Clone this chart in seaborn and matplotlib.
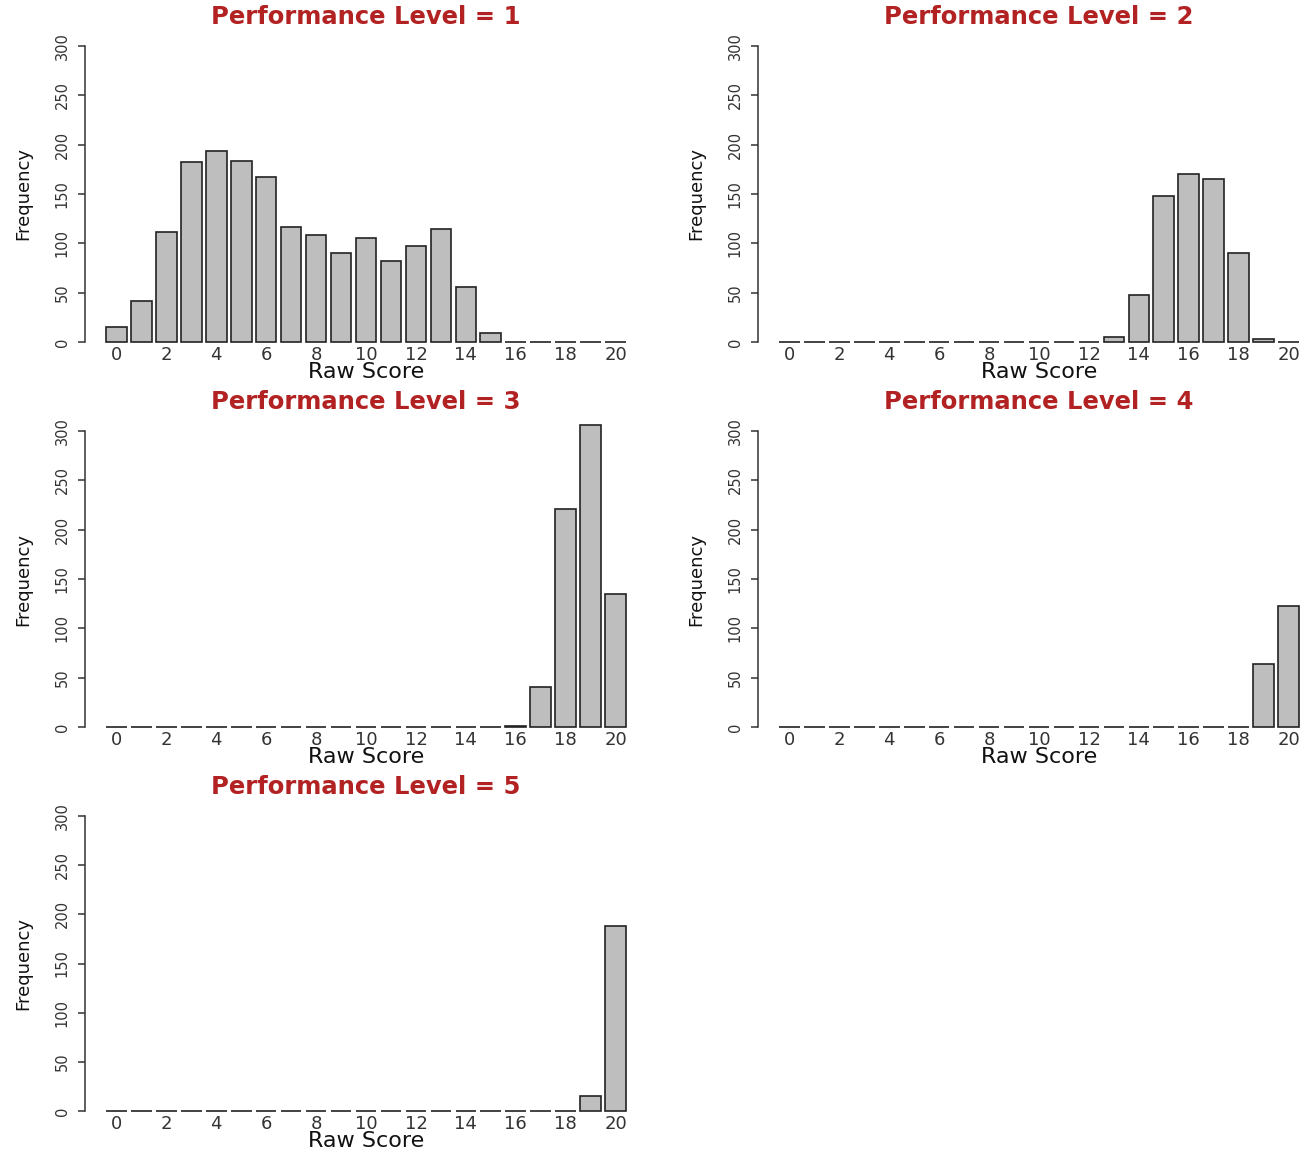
import numpy as np
import pandas as pd
import seaborn as sns
import matplotlib
matplotlib.use('Agg')
import matplotlib.pyplot as plt


sns.set_style('ticks')
plt.rcParams['font.family'] = ['DejaVu Sans']

raw_score = list(range(21))
tick_scores = list(range(0, 21, 2))
level_titles = ['Performance Level = 1', 'Performance Level = 2', 'Performance Level = 3',
                'Performance Level = 4', 'Performance Level = 5']

level_1 = [15, 42, 112, 182, 194, 183, 167, 117, 108, 90, 105, 82, 97, 115, 56, 9, 0, 0, 0, 0, 0]
level_2 = [0, 0, 0, 0, 0, 0, 0, 0, 0, 0, 0, 0, 0, 5, 48, 148, 170, 165, 90, 3, 0]
level_3 = [0, 0, 0, 0, 0, 0, 0, 0, 0, 0, 0, 0, 0, 0, 0, 0, 1, 41, 221, 306, 135]
level_4 = [0, 0, 0, 0, 0, 0, 0, 0, 0, 0, 0, 0, 0, 0, 0, 0, 0, 0, 0, 64, 123]
level_5 = [0, 0, 0, 0, 0, 0, 0, 0, 0, 0, 0, 0, 0, 0, 0, 0, 0, 0, 0, 15, 188]

levels = [level_1, level_2, level_3, level_4, level_5]

W, H = 1305, 1153
fig = plt.figure(figsize=(W / 100, H / 100), dpi=100)

# axes boxes in pixels (left, top, right, bottom) - R par layout
col_lr = [(85, 647), (758, 1320)]
row_tb = [(34, 354), (419, 739), (804, 1123)]


def main():
    for i, (title, freq) in enumerate(zip(level_titles, levels)):
        r, c = divmod(i, 2)
        l, rr = col_lr[c]
        t, b = row_tb[r]
        ax = fig.add_axes([l / W, 1 - b / H, (rr - l) / W, (b - t) / H])
        df = pd.DataFrame({'score': raw_score, 'freq': freq})
        sns.barplot(x='score', y='freq', data=df, color='#BEBEBE', saturation=1,
                    width=0.833, edgecolor='#222222', linewidth=1.2,
                    errorbar=None, ax=ax)
        ax.set_xlim(-1.25, 21.25)
        ax.set_ylim(-12, 312)
        ax.set_yticks(range(0, 301, 50))
        ax.set_yticklabels([str(v) for v in range(0, 301, 50)], rotation=90,
                           va='center', fontsize=10.5, color='#333333')
        ax.set_xticks(tick_scores)
        ax.set_xticklabels([str(v) for v in tick_scores], fontsize=13, color='#333333')
        ax.tick_params(axis='x', length=0, pad=-6)
        ax.tick_params(axis='y', length=5, width=1.1, color='#333333', pad=6)
        for s in ['top', 'right', 'bottom']:
            ax.spines[s].set_visible(False)
        ax.spines['left'].set_bounds(0, 300)
        ax.spines['left'].set_color('#333333')
        ax.spines['left'].set_linewidth(1.1)
        ax.set_xlabel('Raw Score', fontsize=16, color='#111111', labelpad=-1)
        ax.set_ylabel('Frequency', fontsize=13, color='#111111', labelpad=16)
        ax.set_title(title, fontsize=17.5, fontweight='bold', color='#B22222', pad=7)
    fig.savefig('out.png', dpi=100)


if __name__ == '__main__':
    main()
